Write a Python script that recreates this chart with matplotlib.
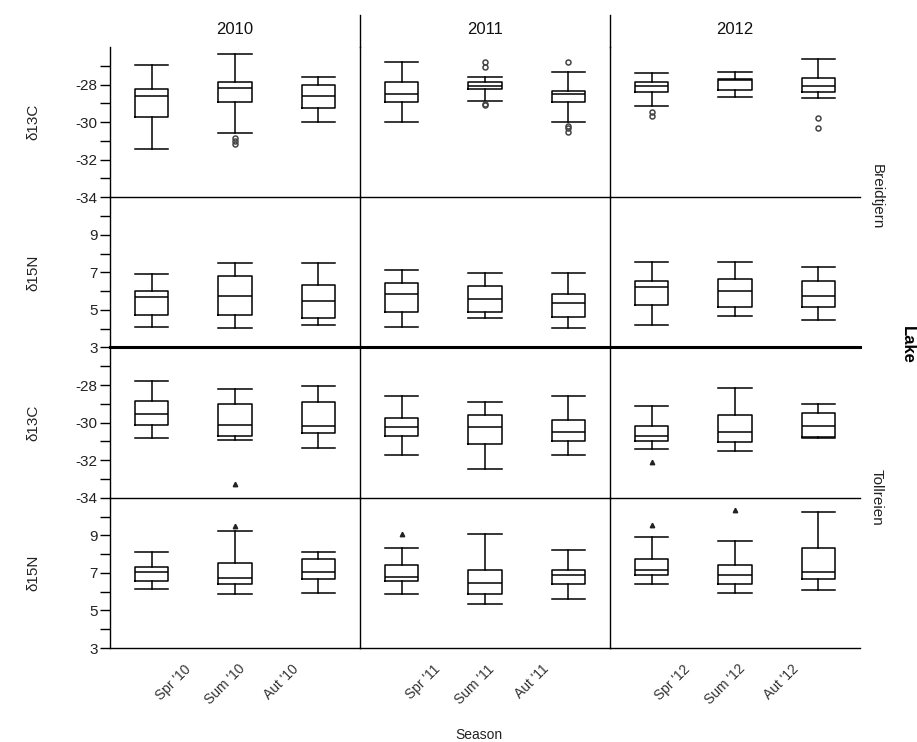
import matplotlib
matplotlib.use('Agg')
import matplotlib.pyplot as plt
from matplotlib.lines import Line2D

plt.rcParams['font.family'] = ['Liberation Sans', 'DejaVu Sans']
plt.rcParams['axes.unicode_minus'] = False

years = ['2010', '2011', '2012']
seasons = ['Spr', 'Sum', 'Aut']
lakes = ['Breidtjern', 'Tollreien']
isotopes = ['δ13C', 'δ15N']

# each row: whislo, q1, median, q3, whishi
# order: Spr/Sum/Aut 2010, Spr/Sum/Aut 2011, Spr/Sum/Aut 2012
breid_c13 = [
    [-31.45, -29.75, -28.6, -28.25, -26.95],
    [-30.6, -28.95, -28.2, -27.85, -26.35],
    [-30.0, -29.25, -28.6, -28.0, -27.6],
    [-30.0, -28.95, -28.5, -27.85, -26.8],
    [-28.9, -28.25, -28.1, -27.85, -27.6],
    [-30.0, -28.95, -28.5, -28.35, -27.35],
    [-29.15, -28.4, -28.1, -27.85, -27.4],
    [-28.65, -28.3, -27.75, -27.7, -27.35],
    [-28.7, -28.4, -28.1, -27.65, -26.65],
]
breid_c13_out = [[], [-30.85, -31.0, -31.15], [], [],
                 [-26.8, -27.05, -29.05, -29.1],
                 [-26.8, -30.2, -30.3, -30.55],
                 [-29.45, -29.7], [], [-29.8, -30.3]]

breid_n15 = [
    [4.1, 4.75, 5.7, 6.0, 6.9],
    [4.05, 4.75, 5.75, 6.8, 7.5],
    [4.2, 4.55, 5.5, 6.35, 7.5],
    [4.1, 4.9, 5.85, 6.45, 7.15],
    [4.55, 4.9, 5.6, 6.25, 6.95],
    [4.05, 4.65, 5.35, 5.85, 6.95],
    [4.2, 5.25, 6.2, 6.55, 7.55],
    [4.7, 5.15, 6.0, 6.65, 7.55],
    [4.45, 5.15, 5.75, 6.55, 7.3],
]
breid_n15_out = [[] for _ in range(9)]

toll_c13 = [
    [-30.8, -30.15, -29.55, -28.85, -27.8],
    [-30.9, -30.7, -30.15, -29.0, -28.2],
    [-31.35, -30.55, -30.2, -28.9, -28.05],
    [-31.75, -30.7, -30.25, -29.75, -28.6],
    [-32.45, -31.15, -30.25, -29.6, -28.9],
    [-31.75, -31.0, -30.5, -29.85, -28.6],
    [-31.4, -31.0, -30.7, -30.2, -29.1],
    [-31.5, -31.05, -30.5, -29.6, -28.15],
    [-30.8, -30.75, -30.2, -29.5, -29.0],
]
toll_c13_out = [[], [-33.25], [], [], [], [], [-32.1], [], []]

toll_n15 = [
    [6.15, 6.55, 7.05, 7.3, 8.1],
    [5.85, 6.4, 6.75, 7.5, 9.25],
    [5.95, 6.65, 7.05, 7.75, 8.1],
    [5.85, 6.55, 6.8, 7.4, 8.35],
    [5.35, 5.85, 6.45, 7.15, 9.05],
    [5.6, 6.4, 6.9, 7.15, 8.2],
    [6.4, 6.9, 7.15, 7.75, 8.9],
    [5.95, 6.4, 6.9, 7.4, 8.7],
    [6.1, 6.7, 7.05, 8.35, 10.25],
]
toll_n15_out = [[], [9.5], [], [9.05], [], [], [9.55], [10.35], []]

rows = [(breid_c13, breid_c13_out, 'c'), (breid_n15, breid_n15_out, 'n'),
        (toll_c13, toll_c13_out, 'c'), (toll_n15, toll_n15_out, 'n')]

W, H = 917, 742
fig = plt.figure(figsize=(W / 100, H / 100), dpi=100)
gs = fig.add_gridspec(4, 3, left=110 / W, right=860 / W, top=1 - 47 / H,
                      bottom=1 - 648 / H, hspace=0, wspace=0)

lw = 1.1
axes = [[None] * 3 for _ in range(4)]
for r, (data, outs, kind) in enumerate(rows):
    marker = 'o' if r < 2 else '^'
    for c in range(3):
        ax = fig.add_subplot(gs[r, c])
        ax.patch.set_visible(False)
        axes[r][c] = ax
        stats = []
        for s in range(3):
            lo, q1, med, q3, hi = data[c * 3 + s]
            stats.append(dict(whislo=lo, q1=q1, med=med, q3=q3, whishi=hi,
                              fliers=outs[c * 3 + s]))
        if marker == 'o':
            fp = dict(marker='o', mfc='none', mec='#444444', ms=3.6, mew=1.1)
        else:
            fp = dict(marker='^', mfc='#222222', mec='#222222', ms=3.2)
        ax.bxp(stats, positions=[0.5, 1.5, 2.5], widths=0.4, capwidths=0.4,
               boxprops=dict(color='black', lw=lw),
               whiskerprops=dict(color='black', lw=lw),
               capprops=dict(color='black', lw=lw),
               medianprops=dict(color='black', lw=lw),
               flierprops=fp)
        ax.set_xlim(0, 3)
        if kind == 'c':
            ax.set_ylim(-34, -26)
            major = [-28, -30, -32, -34]
            minor = [-27, -29, -31, -33]
        else:
            ax.set_ylim(3, 11)
            major = [9, 7, 5, 3]
            minor = [10, 8, 6, 4]
        ax.spines['top'].set_visible(False)
        ax.spines['right'].set_visible(False)
        ax.spines['left'].set_linewidth(1.0)
        ax.spines['bottom'].set_linewidth(2.2 if r == 1 else 1.0)
        if c == 0:
            ax.set_yticks(major)
            ax.set_yticks(minor, minor=True)
            ax.tick_params(axis='y', which='both', length=7, width=1,
                           labelsize=11, labelcolor='#222222', pad=2)
        else:
            ax.set_yticks([])
        if r == 3:
            yy = years[c][2:]
            ax.set_xticks([1.0, 1.65, 2.3])
            ax.set_xticklabels([f"{s} '{yy}" for s in seasons], rotation=45,
                               ha='right', fontsize=10, color='#333333')
            ax.tick_params(axis='x', length=0, pad=10)
        else:
            ax.set_xticks([])

# dividers into the header strip and year labels
for c in range(3):
    pos = axes[0][c].get_position()
    if c > 0:
        fig.add_artist(Line2D([pos.x0, pos.x0], [pos.y1, 1 - 15 / H],
                              transform=fig.transFigure, color='black', lw=1.0))
    fig.text((pos.x0 + pos.x1) / 2, 1 - 30 / H, years[c], ha='center',
             va='center', fontsize=12, color='#111111')

for r in range(4):
    pos = axes[r][0].get_position()
    fig.text(33 / W, (pos.y0 + pos.y1) / 2, isotopes[r % 2], rotation=90,
             ha='center', va='center', fontsize=11, color='#222222')

fig.text(877 / W, 1 - 197 / H, lakes[0], rotation=270, ha='center',
         va='center', fontsize=11, color='#222222')
fig.text(877 / W, 1 - 497 / H, lakes[1], rotation=270, ha='center',
         va='center', fontsize=11, color='#222222')
fig.text(907 / W, 1 - 345 / H, 'Lake', rotation=270, ha='center',
         va='center', fontsize=12, fontweight='bold')
fig.text(479 / W, 1 - 735 / H, 'Season', ha='center', va='center',
         fontsize=10, color='#222222')

fig.savefig('out.png', dpi=100)
